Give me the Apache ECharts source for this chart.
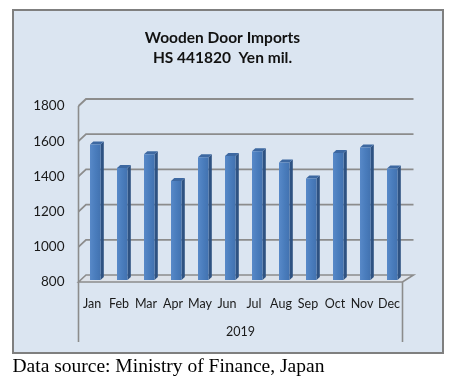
<!DOCTYPE html>
<html><head><meta charset="utf-8">
<script src="https://cdn.jsdelivr.net/npm/echarts@6/dist/echarts.min.js"></script>
<style>html,body{margin:0;padding:0;background:#fff}#c{width:453px;height:384px}</style>
</head><body><div id="c"></div>
<script>
const months = ['Jan','Feb','Mar','Apr','May','Jun','Jul','Aug','Sep','Oct','Nov','Dec'];
const imports = [1570,1437,1515,1363,1498,1504,1532,1468,1377,1522,1553,1434];
const yTicks = [800,1000,1200,1400,1600,1800];
const yearLabel = '2019';
const titleLine1 = 'Wooden Door Imports';
const titleLine2 = 'HS 441820  Yen mil.';
const sourceText = 'Data source: Ministry of Finance, Japan';

const FONT = 'Lato, "Open Sans", sans-serif';
const GRID_COLOR = '#8c8c8c';
const BACK_DX_L = 7.5, BACK_DX_R = 11, BACK_DY = 7;

const chart = echarts.init(document.getElementById('c'), null, {renderer: 'canvas'});

function frameItem(params, api) {
  const t = api.value(1);
  const n = months.length;
  const cw = api.size([1, 0])[0];
  const p = api.coord([0, t]);
  const xL = p[0] - cw / 2;
  const xR = api.coord([n - 1, t])[0] + cw / 2;
  const yF = p[1];
  const children = [];
  if (t === yTicks[0]) {
    children.push({
      type: 'polygon',
      shape: {points: [[xL, yF], [xL + BACK_DX_L, yF - BACK_DY], [xR + BACK_DX_R, yF - BACK_DY], [xR, yF]]},
      style: {fill: '#dde2e9', stroke: GRID_COLOR, lineWidth: 1.6}
    });
    const yTop = api.coord([0, yTicks[yTicks.length - 1]])[1];
    children.push({
      type: 'line',
      shape: {x1: xL, y1: yTop, x2: xL, y2: yF + 60},
      style: {stroke: GRID_COLOR, lineWidth: 1.6}
    });
    children.push({
      type: 'line',
      shape: {x1: xR, y1: yF, x2: xR, y2: yF + 60},
      style: {stroke: GRID_COLOR, lineWidth: 1.6}
    });
  } else {
    children.push({
      type: 'polyline',
      shape: {points: [[xL, yF], [xL + BACK_DX_L, yF - BACK_DY], [xR + BACK_DX_R, yF - BACK_DY]]},
      style: {stroke: GRID_COLOR, lineWidth: 1.8, fill: null}
    });
  }
  return {type: 'group', children};
}

function barItem(params, api) {
  const i = api.value(0);
  const v = api.value(1);
  const base = api.coord([i, yTicks[0]]);
  const top = api.coord([i, v]);
  const cx = base[0];
  const yb = base[1] - 2;
  const yt = top[1] - 2;
  const x0 = cx - 2, x1 = cx + 8.5, dx = 3.3, dy = 3;
  return {
    type: 'group',
    children: [
      {type: 'polygon', shape: {points: [[x1, yt], [x1 + dx, yt - dy], [x1 + dx, yb - dy], [x1, yb]]},
        style: {fill: '#2e5282'}},
      {type: 'polygon', shape: {points: [[x0, yt], [x1, yt], [x1 + dx, yt - dy], [x0 + dx, yt - dy]]},
        style: {fill: '#3d68a1'}},
      {type: 'rect', shape: {x: x0, y: yt, width: x1 - x0, height: yb - yt},
        style: {fill: new echarts.graphic.LinearGradient(0, 0, 1, 0, [
          {offset: 0, color: '#5889c8'}, {offset: 0.5, color: '#4a7dbd'}, {offset: 1, color: '#4272b0'}])}}
    ]
  };
}

chart.setOption({
  animation: false,
  backgroundColor: '#ffffff',
  graphic: [
    {type: 'rect', z: -10, shape: {x: 13, y: 10, width: 430, height: 343},
      style: {fill: '#dbe5f1', stroke: '#7f7f7f', lineWidth: 2}},
    {type: 'text', z: 10, x: 222.5, y: 38, style: {text: titleLine1, font: 'bold 15.5px ' + FONT, fill: '#111', textAlign: 'center', textVerticalAlign: 'middle'}},
    {type: 'text', z: 10, x: 222.5, y: 58, style: {text: titleLine2, font: 'bold 15.5px ' + FONT, fill: '#111', textAlign: 'center', textVerticalAlign: 'middle'}},
    {type: 'text', z: 10, x: 12.5, y: 367, style: {text: sourceText, font: '19.5px "Liberation Serif", serif', fill: '#000', textAlign: 'left', textVerticalAlign: 'middle'}}
  ],
  grid: {left: 78.5, right: 50.5, top: 106, bottom: 102, containLabel: false},
  xAxis: {
    type: 'category', data: months,
    axisLine: {show: false}, axisTick: {show: false}, splitLine: {show: false},
    axisLabel: {fontSize: 12.5, fontFamily: FONT, color: '#1a1a1a', margin: 15, interval: 0},
    name: yearLabel, nameLocation: 'middle', nameGap: 43,
    nameTextStyle: {fontSize: 12.5, fontFamily: FONT, color: '#1a1a1a'}
  },
  yAxis: {
    type: 'value', min: 800, max: 1800, interval: 200,
    axisLine: {show: false}, axisTick: {show: false}, splitLine: {show: false},
    axisLabel: {fontSize: 13.5, fontFamily: FONT, color: '#1a1a1a', margin: 14, formatter: v => String(v)}
  },
  series: [
    {type: 'custom', z: 1, clip: false, renderItem: frameItem,
      data: yTicks.map(t => [0, t]), silent: true},
    {type: 'custom', z: 3, clip: false, renderItem: barItem,
      data: imports.map((v, i) => [i, v])}
  ]
});
</script>
</body></html>
